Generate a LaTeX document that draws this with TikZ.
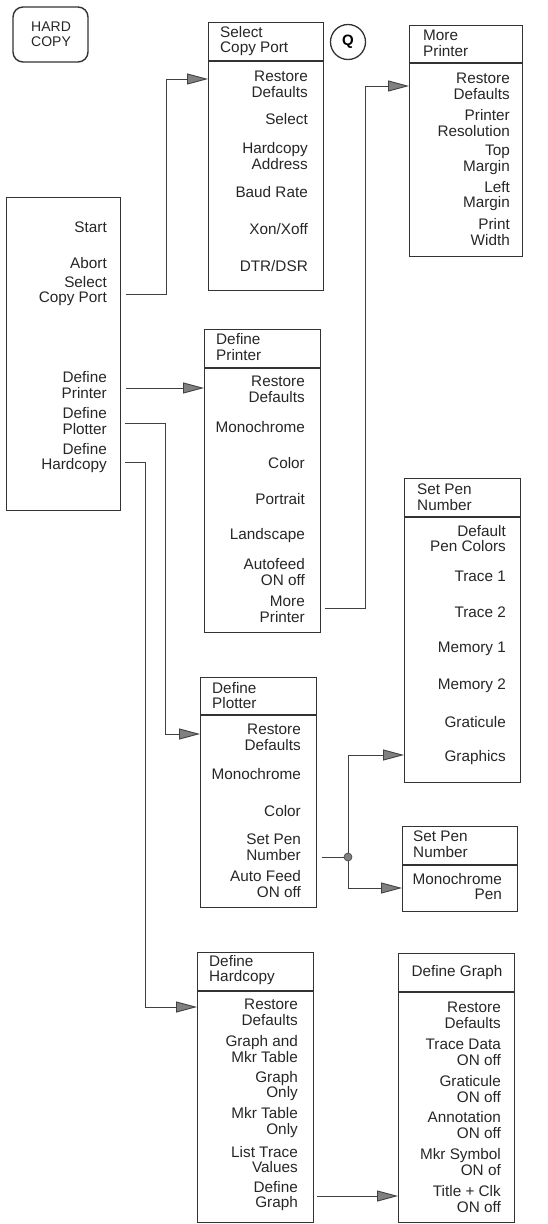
\documentclass[tikz,border=0pt]{standalone}
\usepackage{fontspec}
\setmainfont{Liberation Sans}
\usetikzlibrary{arrows.meta}
\newcommand{\itf}{\fontsize{15.3pt}{15.8pt}\selectfont}
\begin{document}
\begin{tikzpicture}[x=1pt,y=-1pt,
  menubox/.style={draw=black!80, line width=1.4pt, inner sep=0pt, anchor=north west},
  sepline/.style={draw=black!80, line width=1.4pt},
  item/.style={font=\itf, align=right, anchor=east, inner sep=0pt, text=black!85},
  head/.style={font=\itf, align=left, anchor=west, inner sep=0pt, text=black!85},
  conn/.style={draw=black!75, line width=0.9pt},
  arr/.style={conn, -{Triangle[length=21pt,width=11pt,fill=black!50]}},
  junction/.style={circle, fill=black!50, draw=black!75, line width=0.6pt, minimum size=8pt, inner sep=0pt}
]
\useasboundingbox (0,0) rectangle (548,1224);

% HARD COPY key
\node[draw=black!80, line width=1.4pt, rounded corners=10pt, minimum width=75pt, minimum height=55pt, inner sep=0pt] (hardkey) at (50.5,34.5) {};
\node[head, font=\fontsize{14pt}{15pt}\selectfont] (hardtext) at (31,34.5) {HARD\\COPY};

% Q key
\node[draw=black!80, line width=1.3pt, circle, minimum size=35pt, inner sep=0pt, font=\fontsize{15pt}{15pt}\selectfont\bfseries] (qkey) at (348,42) {Q};

% ---------- main menu ----------
\node[menubox, minimum width=114pt, minimum height=313pt] (mainbox) at (6,197) {};
\node[item] (m-start) at (107,227) {Start};
\node[item] (m-abort) at (107,263) {Abort};
\node[item] (m-scp) at (107,291) {Select\\Copy Port};
\node[item] (m-dpr) at (107,385) {Define\\Printer};
\node[item] (m-dpl) at (107,421) {Define\\Plotter};
\node[item] (m-dhc) at (107,458) {Define\\Hardcopy};

% ---------- Select Copy Port ----------
\node[menubox, minimum width=115pt, minimum height=268pt] (scpbox) at (208,22) {};
\draw[sepline] (scpbox.west |- 0,61) -- (scpbox.east |- 0,61);
\node[head] (scp-h) at (220,41) {Select\\Copy Port};
\node[item] (scp-rd) at (308,84) {Restore\\Defaults};
\node[item] (scp-sel) at (308,119) {Select};
\node[item] (scp-ha) at (308,156) {Hardcopy\\Address};
\node[item] (scp-br) at (308,192) {Baud Rate};
\node[item] (scp-xon) at (308,229) {Xon/Xoff};
\node[item] (scp-dtr) at (308,266) {DTR/DSR};

% ---------- More Printer ----------
\node[menubox, minimum width=113pt, minimum height=231pt] (mpbox) at (409,25) {};
\draw[sepline] (mpbox.west |- 0,63) -- (mpbox.east |- 0,63);
\node[head] (mp-h) at (423,43.5) {More\\Printer};
\node[item] (mp-rd) at (510,86) {Restore\\Defaults};
\node[item] (mp-res) at (510,123) {Printer\\Resolution};
\node[item] (mp-top) at (510,159.5) {Top\\Margin};
\node[item] (mp-left) at (510,196) {Left\\Margin};
\node[item] (mp-pw) at (510,232) {Print\\Width};

% ---------- Define Printer ----------
\node[menubox, minimum width=116pt, minimum height=303pt] (dpbox) at (204,329) {};
\draw[sepline] (dpbox.west |- 0,368) -- (dpbox.east |- 0,368);
\node[head] (dp-h) at (216,347) {Define\\Printer};
\node[item] (dp-rd) at (305,389) {Restore\\Defaults};
\node[item] (dp-mono) at (305,427) {Monochrome};
\node[item] (dp-col) at (305,463) {Color};
\node[item] (dp-por) at (305,499) {Portrait};
\node[item] (dp-land) at (305,536) {Landscape};
\node[item] (dp-auto) at (305,572) {Autofeed\\ON off};
\node[item] (dp-more) at (305,609) {More\\Printer};

% ---------- Define Plotter ----------
\node[menubox, minimum width=116pt, minimum height=230pt] (plbox) at (200,677) {};
\draw[sepline] (plbox.west |- 0,715) -- (plbox.east |- 0,715);
\node[head] (pl-h) at (212,695.5) {Define\\Plotter};
\node[item] (pl-rd) at (301,737.5) {Restore\\Defaults};
\node[item] (pl-mono) at (301,774) {Monochrome};
\node[item] (pl-col) at (301,811) {Color};
\node[item] (pl-spn) at (301,847) {Set Pen\\Number};
\node[item] (pl-auto) at (301,884) {Auto Feed\\ON off};

% ---------- Set Pen Number (colour) ----------
\node[menubox, minimum width=116pt, minimum height=304pt] (spabox) at (404,478) {};
\draw[sepline] (spabox.west |- 0,517) -- (spabox.east |- 0,517);
\node[head] (spa-h) at (417,497) {Set Pen\\Number};
\node[item] (spa-def) at (506,538.5) {Default\\Pen Colors};
\node[item] (spa-t1) at (506,576) {Trace 1};
\node[item] (spa-t2) at (506,612) {Trace 2};
\node[item] (spa-m1) at (506,649) {Memory 1};
\node[item] (spa-m2) at (506,686) {Memory 2};
\node[item] (spa-gr) at (506,722) {Graticule};
\node[item] (spa-gp) at (506,758) {Graphics};

% ---------- Set Pen Number (mono) ----------
\node[menubox, minimum width=115pt, minimum height=85pt] (spbbox) at (402,826) {};
\draw[sepline] (spbbox.west |- 0,865) -- (spbbox.east |- 0,865);
\node[head] (spb-h) at (413,844.5) {Set Pen\\Number};
\node[item] (spb-mp) at (502,886.5) {Monochrome\\Pen};

% ---------- Define Hardcopy ----------
\node[menubox, minimum width=116pt, minimum height=270pt] (hcbox) at (197,952) {};
\draw[sepline] (hcbox.west |- 0,991) -- (hcbox.east |- 0,991);
\node[head] (hc-h) at (209,970) {Define\\Hardcopy};
\node[item] (hc-rd) at (298,1012.5) {Restore\\Defaults};
\node[item] (hc-gm) at (298,1049) {Graph and\\Mkr Table};
\node[item] (hc-go) at (298,1086) {Graph\\Only};
\node[item] (hc-mo) at (298,1122.5) {Mkr Table\\Only};
\node[item] (hc-lt) at (298,1159.5) {List Trace\\Values};
\node[item] (hc-dg) at (298,1196) {Define\\Graph};

% ---------- Define Graph ----------
\node[menubox, minimum width=116pt, minimum height=269pt] (dgbox) at (398,953) {};
\draw[sepline] (dgbox.west |- 0,992) -- (dgbox.east |- 0,992);
\node[font=\itf, inner sep=0pt, text=black!85] (dg-h) at (457,973) {Define Graph};
\node[item] (dg-rd) at (501,1015) {Restore\\Defaults};
\node[item] (dg-td) at (501,1052) {Trace Data\\ON off};
\node[item] (dg-gr) at (501,1089) {Graticule\\ON off};
\node[item] (dg-an) at (501,1125) {Annotation\\ON off};
\node[item] (dg-ms) at (501,1162) {Mkr Symbol\\ON of};
\node[item] (dg-tc) at (501,1199) {Title + Clk\\ON off};

% ---------- connectors ----------
\draw[arr] ([xshift=19pt,yshift=-3pt]m-scp.east) -| ([xshift=-42pt,yshift=5pt]scpbox.west |- scp-rd.east) -- ([yshift=5pt]scpbox.west |- scp-rd.east);
\draw[arr] ([xshift=19pt,yshift=-3pt]m-dpr.east) -- ([yshift=-3pt]dpbox.west |- m-dpr.east);
\draw[arr] ([xshift=18pt,yshift=-2pt]m-dpl.east) -| ([xshift=-35pt,yshift=3.5pt]plbox.west |- pl-rd.east) -- ([yshift=3.5pt]plbox.west |- pl-rd.east);
\draw[arr] ([xshift=18pt,yshift=-4pt]m-dhc.east) -| ([xshift=-52pt,yshift=5.5pt]hcbox.west |- hc-rd.east) -- ([yshift=5.5pt]hcbox.west |- hc-rd.east);
\draw[arr] ([xshift=20pt,yshift=1pt]dp-more.east) -| ([xshift=-44pt]mpbox.west |- mp-rd.east) -- (mpbox.west |- mp-rd.east);
\node[junction] (junc) at (348,857) {};
\draw[conn] ([xshift=21pt]pl-spn.east |- junc) -- (junc);
\draw[arr] (junc) |- ([yshift=3pt]spabox.west |- spa-gp.east);
\draw[arr] (junc) |- ([yshift=-1.5pt]spbbox.west |- spb-mp.east);
\draw[arr] ([xshift=19pt]hc-dg.east) -- (dgbox.west |- hc-dg.east);
\end{tikzpicture}
\end{document}
